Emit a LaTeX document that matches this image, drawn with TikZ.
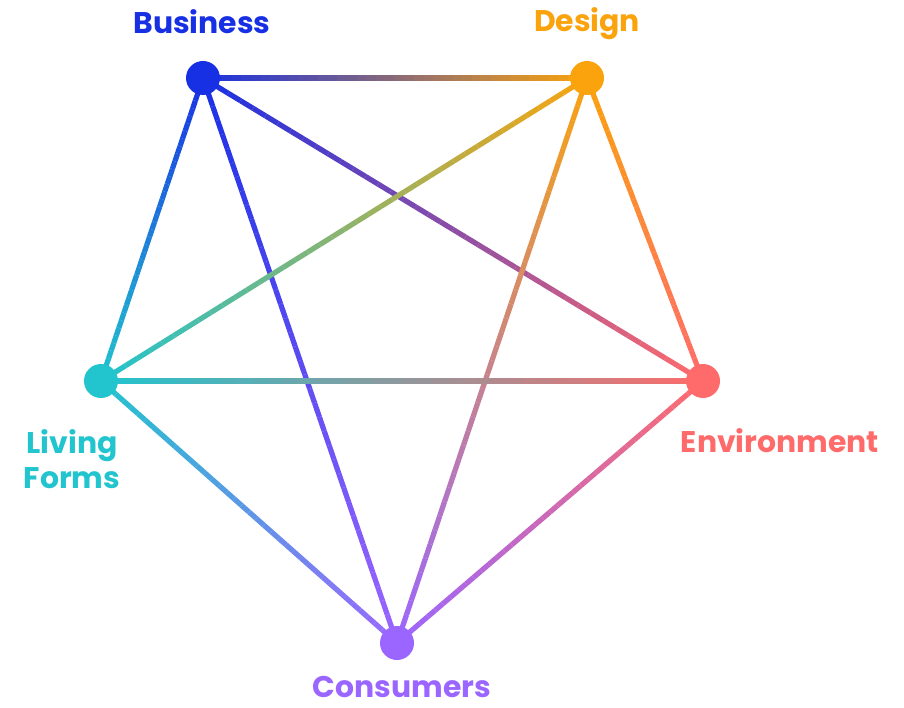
\documentclass[tikz,border=0pt]{standalone}
\usepackage{fontspec}
\setmainfont{Poppins}
\usepackage{tikz}
\usetikzlibrary{calc,backgrounds}
\definecolor{bizblue}{RGB}{24,48,228}
\definecolor{designorange}{RGB}{250,163,12}
\definecolor{livingcyan}{RGB}{34,196,206}
\definecolor{envcoral}{RGB}{255,107,107}
\definecolor{consumerpurple}{RGB}{155,102,255}

% edge from #1 to #2, colour running from #3 to #4
\newcommand{\gradedge}[4]{%
  \foreach \k in {1,...,40}{
    \pgfmathtruncatemacro{\mixpct}{100-(\k-0.5)*2.5}
    \draw[edge, color=#3!\mixpct!#4]
      ($(#1.center)!{(\k-1)/40}!(#2.center)$) -- ($(#1.center)!{\k/40}!(#2.center)$);
  }%
}

\begin{document}
\begin{tikzpicture}[
  dot/.style={circle, fill=#1, inner sep=0pt, minimum size=0.68cm},
  lab/.style={font=\fontsize{17}{20}\selectfont\bfseries, align=center, text=#1},
  edge/.style={line width=0.105cm, line cap=butt}
]
\useasboundingbox (0,0) rectangle (18.08,14.14);

\node[dot=bizblue] (B) at (4.06,12.58) {};
\node[dot=designorange] (D) at (11.74,12.58) {};
\node[dot=envcoral] (E) at (14.06,6.52) {};
\node[dot=consumerpurple] (C) at (7.94,1.28) {};
\node[dot=livingcyan] (L) at (2.02,6.52) {};

\node[lab=bizblue] (Blab) at (4.04,13.7) {Business};
\node[lab=designorange] (Dlab) at (11.74,13.66) {Design};
\node[lab=envcoral] (Elab) at (15.6,5.32) {Environment};
\node[lab=consumerpurple] (Clab) at (8.04,0.4) {Consumers};
\node[lab=livingcyan] (Llab) at (1.44,4.96) {Living\\Forms};

\begin{pgfonlayer}{background}
\gradedge{B}{D}{bizblue}{designorange}
\gradedge{B}{E}{bizblue}{envcoral}
\gradedge{B}{C}{bizblue}{consumerpurple}
\gradedge{B}{L}{bizblue}{livingcyan}
\gradedge{D}{E}{designorange}{envcoral}
\gradedge{D}{C}{designorange}{consumerpurple}
\gradedge{D}{L}{designorange}{livingcyan}
\gradedge{E}{C}{envcoral}{consumerpurple}
\gradedge{E}{L}{envcoral}{livingcyan}
\gradedge{C}{L}{consumerpurple}{livingcyan}
\end{pgfonlayer}
\end{tikzpicture}
\end{document}
